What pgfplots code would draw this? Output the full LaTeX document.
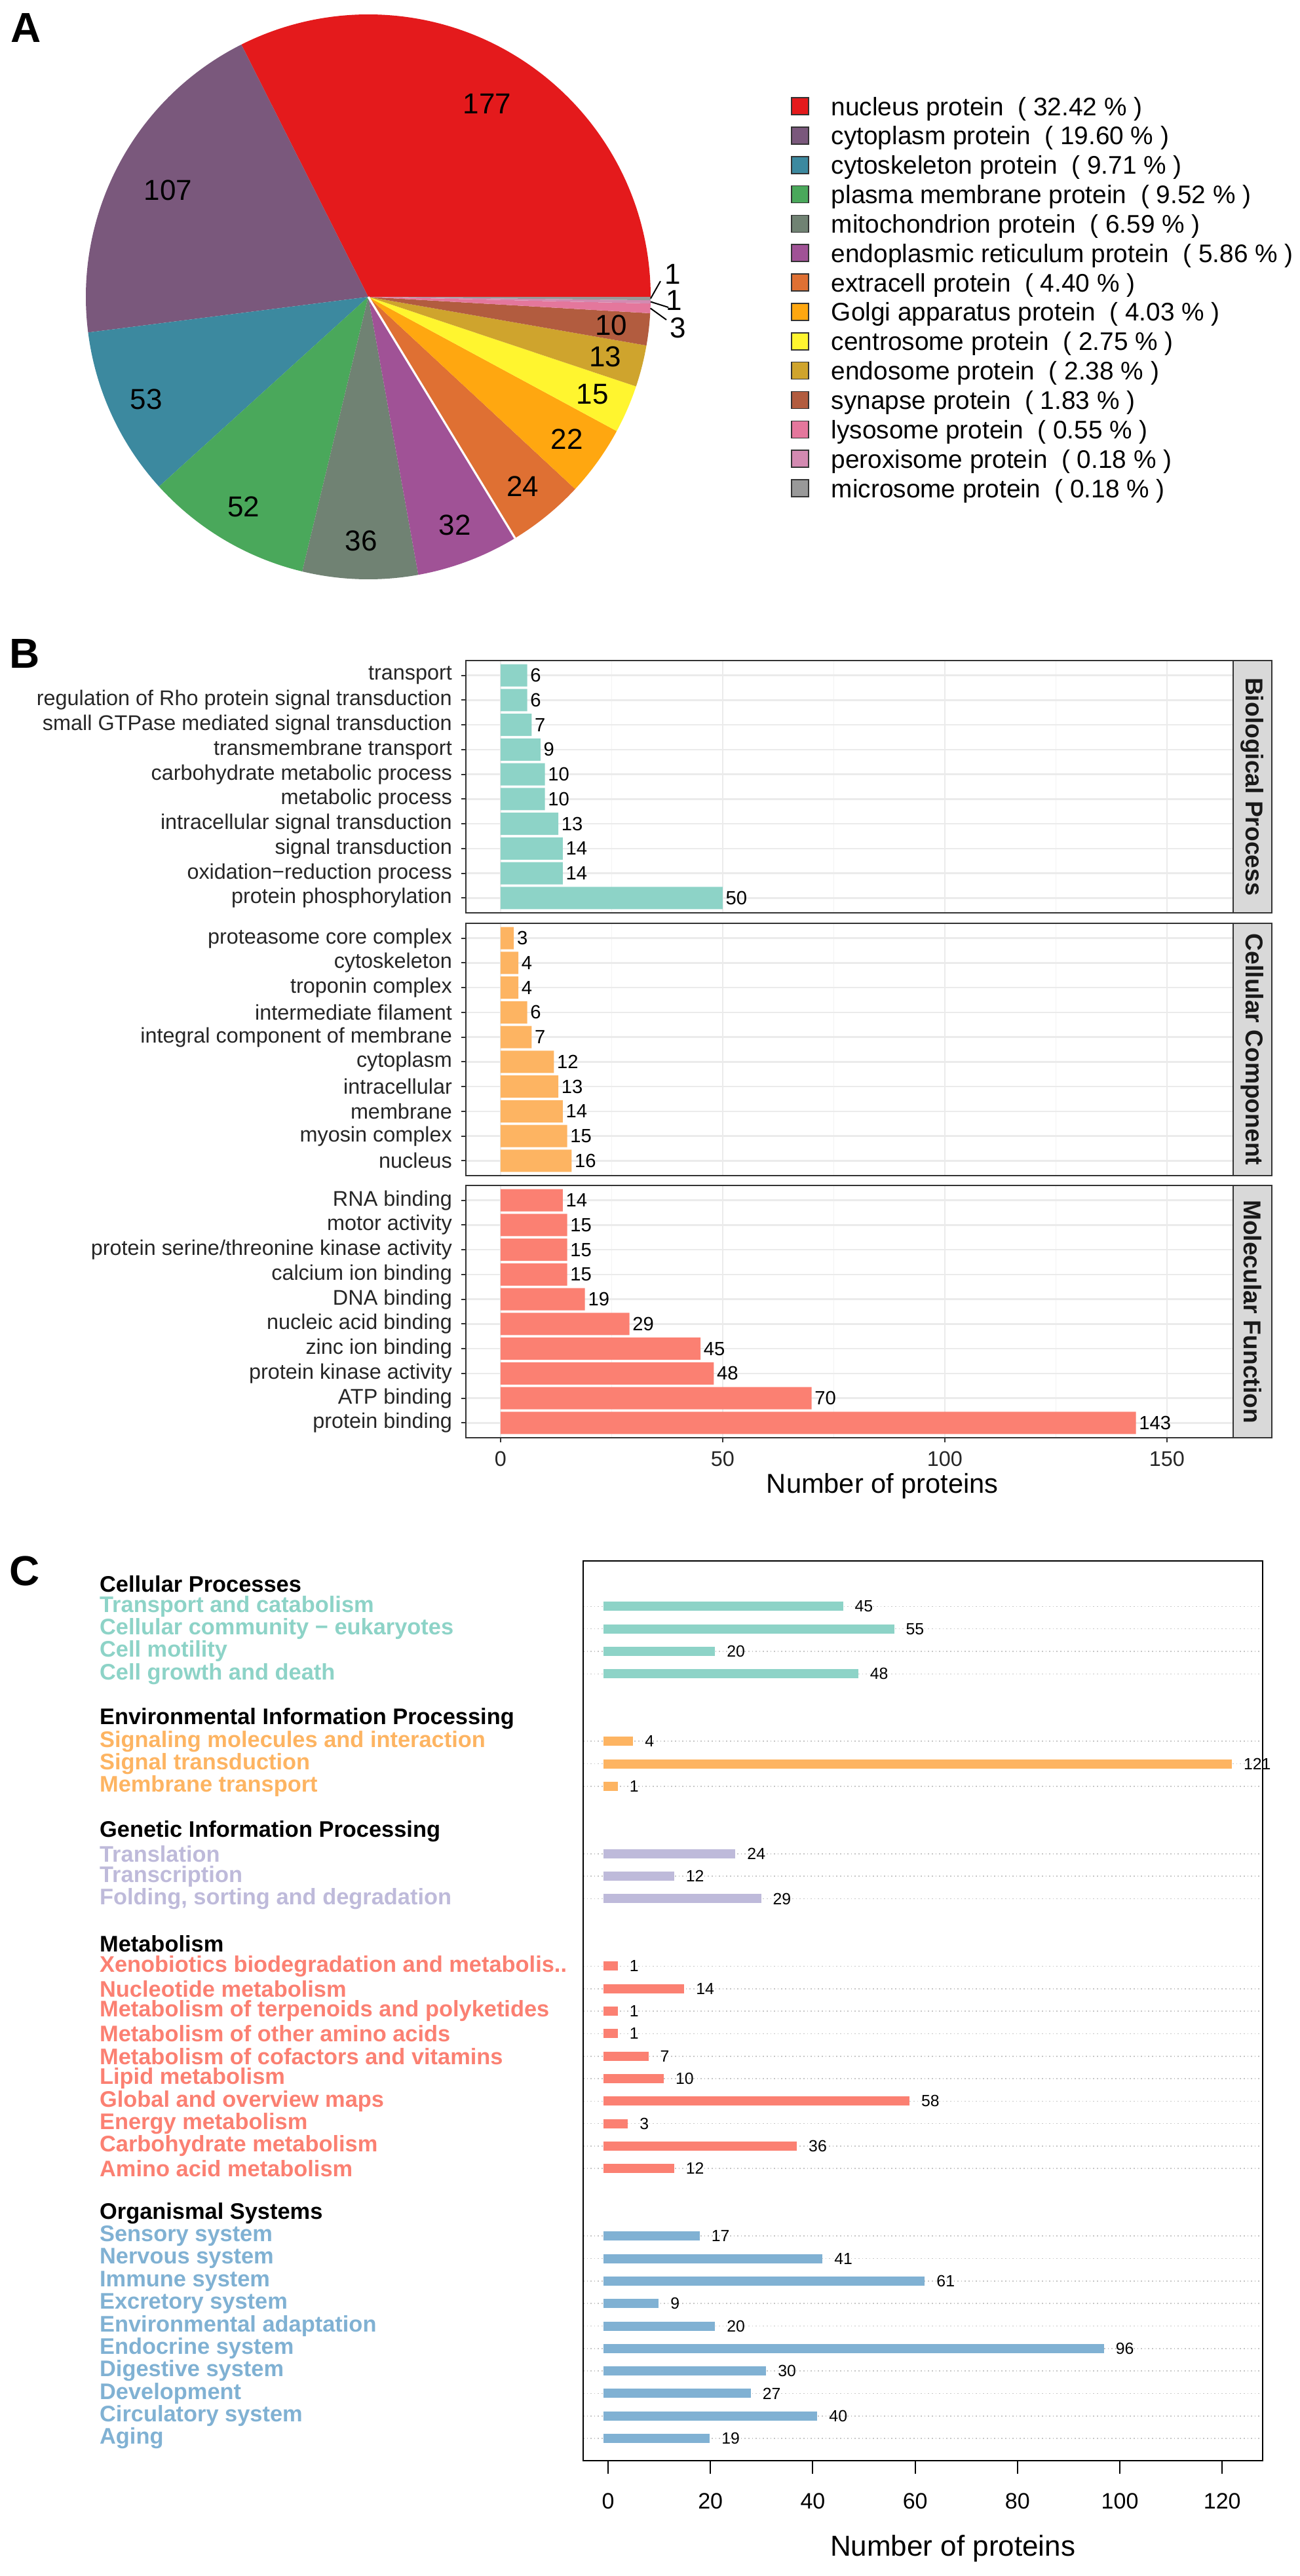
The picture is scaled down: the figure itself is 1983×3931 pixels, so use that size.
\documentclass[border=0pt]{standalone}
\usepackage{fontspec}
\setmainfont{Liberation Sans}
\usepackage{pgfplots}
\pgfplotsset{compat=1.18}

% pie colours
\definecolor{pieA}{HTML}{E41A1C}
\definecolor{pieB}{HTML}{7A587C}
\definecolor{pieC}{HTML}{3C899F}
\definecolor{pieD}{HTML}{4AA85B}
\definecolor{pieE}{HTML}{708273}
\definecolor{pieF}{HTML}{A05296}
\definecolor{pieG}{HTML}{DF7033}
\definecolor{pieH}{HTML}{FFA710}
\definecolor{pieI}{HTML}{FFF52F}
\definecolor{pieJ}{HTML}{CFA42D}
\definecolor{pieK}{HTML}{B25C3F}
\definecolor{pieL}{HTML}{E4779C}
\definecolor{pieM}{HTML}{D38AB1}
\definecolor{pieN}{HTML}{999999}
% bar colours
\definecolor{cteal}{HTML}{8DD3C7}
\definecolor{corange}{HTML}{FDB462}
\definecolor{clav}{HTML}{BEBADA}
\definecolor{csalmon}{HTML}{FB8072}
\definecolor{cblue}{HTML}{80B1D3}
\definecolor{grey20}{HTML}{333333}
\definecolor{grey85}{HTML}{D9D9D9}
\definecolor{grey92}{HTML}{EBEBEB}
\definecolor{grey95}{HTML}{F3F3F3}

\newcommand\panelfont{\bfseries\fontsize{16}{18}\selectfont}
\newcommand\pielab{\fontsize{11}{13}\selectfont}
\newcommand\legfont{\fontsize{9.7}{11}\selectfont}
\newcommand\btick{\fontsize{8.1}{9.5}\selectfont}
\newcommand\bval{\fontsize{7.3}{8.5}\selectfont}
\newcommand\bstrip{\bfseries\fontsize{9.3}{11}\selectfont}
\newcommand\blab{\fontsize{10.4}{12}\selectfont}
\newcommand\cbold{\bfseries\fontsize{8.6}{10}\selectfont}
\newcommand\ctick{\fontsize{8.5}{10}\selectfont}
\newcommand\cval{\fontsize{6.2}{7}\selectfont}
\newcommand\clab{\fontsize{11}{13}\selectfont}

\pgfplotsset{
  gopanel/.style={
    xbar, scale only axis, width=292.75pt, height=96.25pt,
    anchor=north west,
    xmin=-7.8, xmax=164.9, ymin=0.4, ymax=10.6,
    bar width=0.9, bar shift=0pt,
    axis line style={grey20, line width=0.5pt},
    xtick={0,50,100,150}, minor xtick={25,75,125},
    xmajorgrids, xminorgrids, ymajorgrids,
    major grid style={grey92, line width=0.6pt},
    minor grid style={grey95, line width=0.35pt},
    ytick={1,...,10}, ytick pos=left, xtick pos=bottom,
    tick align=outside, major tick length=1.75pt, minor tick length=0pt,
    tick style={grey20, line width=0.5pt},
    yticklabel style={font=\btick, text=black!85},
    xticklabel style={font=\btick, text=black!85},
    point meta=x,
    nodes near coords,
    nodes near coords style={font=\bval, anchor=west, inner sep=1pt, text=black},
    /pgf/number format/assume math mode=true,
  },
  toppanel/.style={xticklabels={}, xtick style={draw=none}},
}

\begin{document}
\begin{tikzpicture}[x=0.25pt, y=0.25pt]
\path[use as bounding box] (0,0) rectangle (1983,-3931);

% ---------------- A: pie ----------------
\node[font=\panelfont] at (40,-42) {A};
\begin{scope}[shift={(562,-453)}]
  \gdef\cum{0}
  \foreach \v/\c/\r in {177/pieA/346, 107/pieB/346, 53/pieC/373, 52/pieD/373,
      36/pieE/373, 32/pieF/373, 24/pieG/373, 22/pieH/373, 15/pieI/373,
      13/pieJ/373, 10/pieK/373, 3/pieL/0, 1/pieM/0, 1/pieN/0}{
    \pgfmathsetmacro{\a}{\cum}
    \pgfmathsetmacro{\b}{\cum+\v/546*360}
    \fill[\c] (0,0) -- (\a:107.75pt) arc[start angle=\a, end angle=\b, radius=107.75pt] -- cycle;
    \ifdim\r pt>0pt
      \pgfmathsetmacro{\m}{(\a+\b)/2}
      \pgfmathsetmacro{\rr}{\r*0.25}
      \node[font=\pielab] at (\m:\rr pt) {\v};
    \fi
    \xdef\cum{\b}
  }
  % thin white seam between the ER and extracell slices
  \pgfmathsetmacro{\seam}{457/546*360}
  \draw[white, line width=0.8pt] (0,0) -- (\seam:107.75pt);
  % small slices labelled outside
  \foreach \mid/\v/\lx/\ly/\ex/\ey in {542.5/3/473/-47/455/-35,
      544.5/1/467/-5/458/-16, 545.5/1/465/35/446/24}{
    \pgfmathsetmacro{\m}{\mid/546*360}
    \draw[black, line width=0.5pt] (\m:107.75pt) -- (\ex,\ey);
    \node[font=\pielab] at (\lx,\ly) {\v};
  }
\end{scope}

% legend
\foreach \c/\t [count=\i from 0] in {
  pieA/{nucleus protein\ \ ( 32.42 \% )},
  pieB/{cytoplasm protein\ \ ( 19.60 \% )},
  pieC/{cytoskeleton protein\ \ ( 9.71 \% )},
  pieD/{plasma membrane protein\ \ ( 9.52 \% )},
  pieE/{mitochondrion protein\ \ ( 6.59 \% )},
  pieF/{endoplasmic reticulum protein\ \ ( 5.86 \% )},
  pieG/{extracell protein\ \ ( 4.40 \% )},
  pieH/{Golgi apparatus protein\ \ ( 4.03 \% )},
  pieI/{centrosome protein\ \ ( 2.75 \% )},
  pieJ/{endosome protein\ \ ( 2.38 \% )},
  pieK/{synapse protein\ \ ( 1.83 \% )},
  pieL/{lysosome protein\ \ ( 0.55 \% )},
  pieM/{peroxisome protein\ \ ( 0.18 \% )},
  pieN/{microsome protein\ \ ( 0.18 \% )}}{
  \pgfmathsetmacro{\yy}{162+44.85*\i}
  \filldraw[fill=\c, draw=black!80, line width=0.4pt] (1208,-\yy+13) rectangle (1234,-\yy-13);
  \node[font=\legfont, anchor=base west, inner sep=0pt] at (1268,-\yy-14) {\t};
}

% ---------------- B: GO bars ----------------
\node[font=\panelfont] at (38,-997) {B};

\begin{axis}[gopanel, toppanel, at={(177.75pt,-252pt)},
  yticklabels={protein phosphorylation, oxidation−reduction process, signal transduction,
    intracellular signal transduction, metabolic process, carbohydrate metabolic process,
    transmembrane transport, small GTPase mediated signal transduction,
    regulation of Rho protein signal transduction, transport}]
\addplot[fill=cteal, draw=none] coordinates {
  (50,1) (14,2) (14,3) (13,4) (10,5) (10,6) (9,7) (7,8) (6,9) (6,10)};
\end{axis}

\begin{axis}[gopanel, toppanel, at={(177.75pt,-352.25pt)},
  yticklabels={nucleus, myosin complex, membrane, intracellular, cytoplasm,
    integral component of membrane, intermediate filament, troponin complex,
    cytoskeleton, proteasome core complex}]
\addplot[fill=corange, draw=none] coordinates {
  (16,1) (15,2) (14,3) (13,4) (12,5) (7,6) (6,7) (4,8) (4,9) (3,10)};
\end{axis}

\begin{axis}[gopanel, at={(177.75pt,-452.25pt)},
  yticklabels={protein binding, ATP binding, protein kinase activity, zinc ion binding,
    nucleic acid binding, DNA binding, calcium ion binding,
    protein serine/threonine kinase activity, motor activity, RNA binding},
  xlabel={Number of proteins},
  xlabel style={font=\blab, at={(axis description cs:0.543,0)}, anchor=center, yshift=-18.5pt}]
\addplot[fill=csalmon, draw=none] coordinates {
  (143,1) (70,2) (48,3) (45,4) (29,5) (19,6) (15,7) (15,8) (15,9) (14,10)};
\end{axis}

% facet strips
\foreach \top/\t in {1008/Biological Process, 1409/Cellular Component, 1809/Molecular Function}{
  \filldraw[fill=grey85, draw=grey20, line width=0.5pt] (1882,-\top) rectangle (1941,-\top-385);
  \node[font=\bstrip, text=black!90, rotate=-90] at (1911.5,-\top-192.5) {\t};
}

% ---------------- C: KEGG bars ----------------
\node[font=\panelfont] at (38,-2397) {C};

\begin{axis}[at={(222.5pt,-595.5pt)}, anchor=north west,
  scale only axis, width=259.25pt, height=343.25pt,
  xmin=-4.87, xmax=127.9, ymin=-1.02, ymax=38.99, y dir=reverse,
  axis line style={black, line width=0.55pt},
  xtick={0,20,...,120}, xtick pos=bottom, tick align=outside,
  major tick length=5pt, tick style={black, line width=0.5pt},
  xticklabel style={font=\ctick, text=black, yshift=-4pt},
  ytick={1,2,3,4,7,8,9,12,13,14,17,18,19,20,21,22,23,24,25,26,29,30,31,32,33,34,35,36,37,38},
  yticklabels={
    \textcolor{cteal}{Transport and catabolism},
    \textcolor{cteal}{Cellular community − eukaryotes},
    \textcolor{cteal}{Cell motility},
    \textcolor{cteal}{Cell growth and death},
    \textcolor{corange}{Signaling molecules and interaction},
    \textcolor{corange}{Signal transduction},
    \textcolor{corange}{Membrane transport},
    \textcolor{clav}{Translation},
    \textcolor{clav}{Transcription},
    \textcolor{clav}{Folding, sorting and degradation},
    \textcolor{csalmon}{Xenobiotics biodegradation and metabolis..},
    \textcolor{csalmon}{Nucleotide metabolism},
    \textcolor{csalmon}{Metabolism of terpenoids and polyketides},
    \textcolor{csalmon}{Metabolism of other amino acids},
    \textcolor{csalmon}{Metabolism of cofactors and vitamins},
    \textcolor{csalmon}{Lipid metabolism},
    \textcolor{csalmon}{Global and overview maps},
    \textcolor{csalmon}{Energy metabolism},
    \textcolor{csalmon}{Carbohydrate metabolism},
    \textcolor{csalmon}{Amino acid metabolism},
    \textcolor{cblue}{Sensory system},
    \textcolor{cblue}{Nervous system},
    \textcolor{cblue}{Immune system},
    \textcolor{cblue}{Excretory system},
    \textcolor{cblue}{Environmental adaptation},
    \textcolor{cblue}{Endocrine system},
    \textcolor{cblue}{Digestive system},
    \textcolor{cblue}{Development},
    \textcolor{cblue}{Circulatory system},
    \textcolor{cblue}{Aging}},
  extra y ticks={0,6,11,16,28},
  extra y tick labels={Cellular Processes, Environmental Information Processing,
    Genetic Information Processing, Metabolism, Organismal Systems},
  extra y tick style={grid=none},
  ytick style={draw=none},
  yticklabel style={font=\cbold, anchor=west, xshift=-183pt},
  ymajorgrids, major grid style={gray!45, densely dotted, line width=0.4pt},
  xlabel={Number of proteins},
  xlabel style={font=\clab, at={(axis description cs:0.544,0)}, anchor=center, yshift=-33.5pt},
  point meta=x, nodes near coords,
  nodes near coords style={font=\cval, anchor=west, inner sep=0pt, xshift=4.5pt, text=black},
  /pgf/number format/assume math mode=true,
  clip=false]
\addplot[xcomb, cteal, line width=3.5pt, line cap=rect] coordinates {
  (45,1) (55,2) (20,3) (48,4)};
\addplot[xcomb, corange, line width=3.5pt, line cap=rect] coordinates {
  (4,7) (121,8) (1,9)};
\addplot[xcomb, clav, line width=3.5pt, line cap=rect] coordinates {
  (24,12) (12,13) (29,14)};
\addplot[xcomb, csalmon, line width=3.5pt, line cap=rect] coordinates {
  (1,17) (14,18) (1,19) (1,20) (7,21) (10,22) (58,23) (3,24) (36,25) (12,26)};
\addplot[xcomb, cblue, line width=3.5pt, line cap=rect] coordinates {
  (17,29) (41,30) (61,31) (9,32) (20,33) (96,34) (30,35) (27,36) (40,37) (19,38)};
\end{axis}
\end{tikzpicture}
\end{document}
